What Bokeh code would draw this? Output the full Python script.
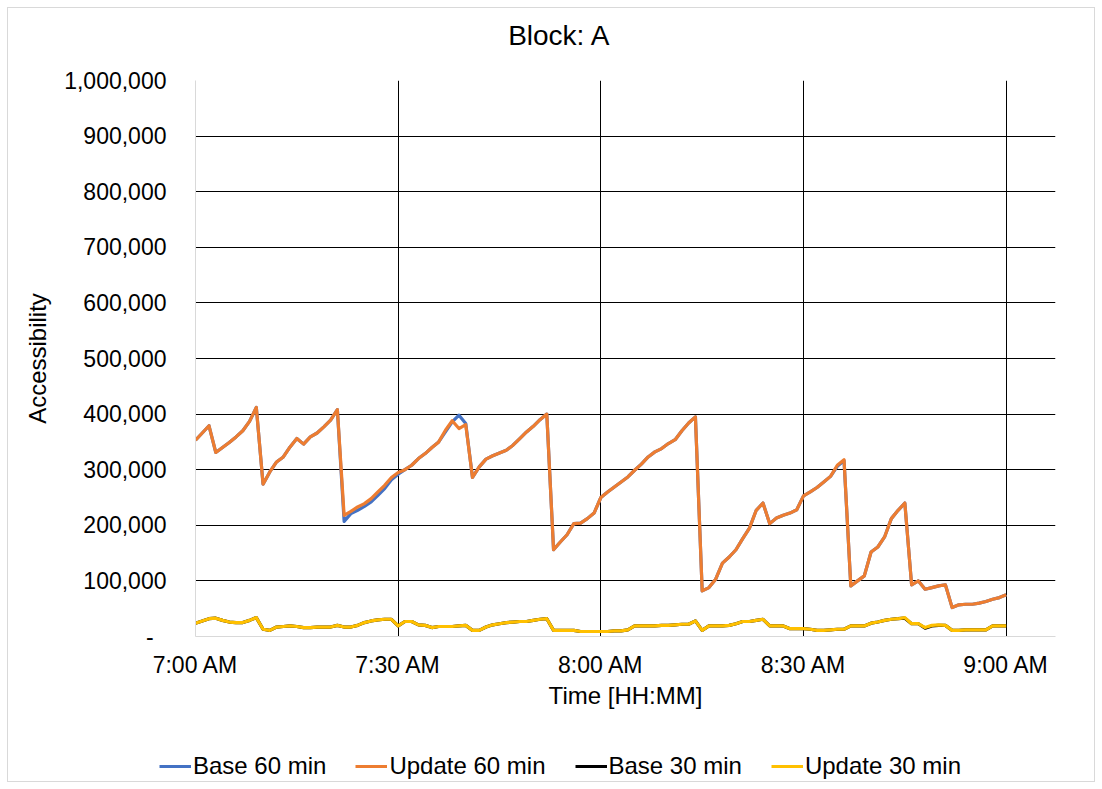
from bokeh.plotting import figure
from bokeh.layouts import column
from bokeh.models import Range1d, FixedTicker, NumeralTickFormatter, Legend, LegendItem, Label
from bokeh.embed import file_html
from bokeh.resources import INLINE

# minutes after 7:00 AM
minutes = list(range(121))

update_60 = [353000, 366000, 379000, 331000, 340000, 349000, 359000, 370000, 387000, 412000,
             274000, 296000, 314000, 323000, 341000, 356000, 346000, 359000, 366000, 377000,
             389000, 408000, 218000, 225000, 233000, 239000, 248000, 260000, 272000, 286000,
             295000, 300000, 308000, 320000, 329000, 340000, 350000, 371000, 388000, 374000,
             381000, 286000, 305000, 319000, 325000, 330000, 335000, 344000, 356000, 368000,
             378000, 390000, 400000, 156000, 170000, 183000, 203000, 204000, 212000, 222000,
             250000, 260000, 269000, 278000, 287000, 299000, 310000, 323000, 332000, 338000,
             347000, 354000, 370000, 384000, 395000, 82000, 88000, 103000, 132000, 143000,
             156000, 176000, 195000, 227000, 240000, 203000, 213000, 218000, 222000, 228000,
             253000, 260000, 268000, 278000, 288000, 308000, 318000, 91000, 100000, 109000,
             152000, 161000, 179000, 212000, 227000, 240000, 93000, 100000, 85000, 88000,
             91000, 93000, 52000, 57000, 58000, 58000, 60000, 63000, 67000, 70000,
             75000]

base_60 = [353000, 366000, 379000, 331000, 340000, 349000, 359000, 370000, 387000, 412000,
           274000, 296000, 314000, 323000, 341000, 356000, 346000, 359000, 366000, 377000,
           389000, 408000, 207000, 221000, 227000, 234000, 242000, 254000, 266000, 282000,
           292000, 300000, 308000, 320000, 329000, 340000, 350000, 368000, 386000, 398000,
           383000, 286000, 305000, 319000, 325000, 330000, 335000, 344000, 356000, 368000,
           378000, 390000, 400000, 156000, 170000, 183000, 203000, 204000, 212000, 222000,
           250000, 260000, 269000, 278000, 287000, 299000, 310000, 323000, 332000, 338000,
           347000, 354000, 370000, 384000, 395000, 82000, 88000, 103000, 132000, 143000,
           156000, 176000, 195000, 227000, 240000, 203000, 213000, 218000, 222000, 228000,
           253000, 260000, 268000, 278000, 288000, 306000, 316000, 91000, 100000, 109000,
           152000, 161000, 179000, 212000, 227000, 240000, 93000, 100000, 85000, 88000,
           91000, 93000, 52000, 57000, 58000, 58000, 60000, 63000, 67000, 70000,
           75000]

update_30 = [24000, 28000, 32000, 33000, 29000, 26000, 25000, 25000, 29000, 34000,
             13000, 11000, 17000, 18000, 19000, 18000, 16000, 16000, 17000, 17000,
             17000, 20000, 17000, 17000, 20000, 25000, 28000, 30000, 31000, 31000,
             19000, 27000, 27000, 21000, 20000, 16000, 18000, 18000, 18000, 19000,
             20000, 11000, 11000, 17000, 21000, 23000, 25000, 26000, 27000, 27000,
             29000, 31000, 32000, 11000, 11000, 11000, 11000, 9000, 9000, 9000,
             9000, 9000, 10000, 10000, 12000, 19000, 19000, 19000, 19000, 20000,
             20000, 21000, 22000, 22000, 28000, 11000, 19000, 19000, 19000, 20000,
             23000, 27000, 27000, 29000, 31000, 19000, 19000, 19000, 14000, 14000,
             14000, 13000, 11000, 11000, 12000, 13000, 13000, 19000, 19000, 19000,
             24000, 26000, 29000, 31000, 32000, 34000, 23000, 23000, 16000, 20000,
             21000, 20000, 11000, 11000, 12000, 12000, 12000, 12000, 19000, 19000,
             19000]

base_30 = [24000, 28000, 32000, 33000, 29000, 26000, 25000, 25000, 29000, 34000,
           13000, 11000, 17000, 18000, 19000, 18000, 16000, 16000, 17000, 17000,
           17000, 20000, 17000, 17000, 20000, 25000, 28000, 30000, 31000, 31000,
           19000, 27000, 27000, 21000, 20000, 16000, 18000, 18000, 18000, 19000,
           20000, 11000, 11000, 17000, 21000, 23000, 25000, 26000, 27000, 27000,
           29000, 31000, 32000, 11000, 11000, 11000, 11000, 9000, 9000, 9000,
           9000, 9000, 10000, 10000, 12000, 19000, 19000, 19000, 19000, 20000,
           20000, 21000, 22000, 22000, 28000, 11000, 19000, 19000, 19000, 20000,
           23000, 27000, 27000, 29000, 31000, 19000, 19000, 19000, 14000, 14000,
           14000, 13000, 11000, 11000, 12000, 13000, 13000, 19000, 19000, 19000,
           24000, 26000, 29000, 31000, 32000, 33000, 23000, 23000, 15000, 19000,
           20000, 20000, 11000, 11000, 12000, 12000, 12000, 12000, 19000, 19000,
           19000]

series_names = ["Base 60 min", "Update 60 min", "Base 30 min", "Update 30 min"]
series_colors = ["#4472C4", "#ED7D31", "#000000", "#FFC000"]
series_data = [base_60, update_60, base_30, update_30]

x_tick_values = [0, 30, 60, 90, 120]
x_tick_labels = ["7:00 AM", "7:30 AM", "8:00 AM", "8:30 AM", "9:00 AM"]
y_tick_values = [0, 100000, 200000, 300000, 400000, 500000, 600000, 700000, 800000, 900000, 1000000]

FONT = "Liberation Sans"
W = 1086


def blank_figure(h):
    f = figure(width=W, height=h, output_backend="svg", toolbar_location=None,
               x_axis_type=None, y_axis_type=None,
               x_range=Range1d(0, 1), y_range=Range1d(0, 1),
               min_border=0, min_border_left=0, min_border_right=0,
               min_border_top=0, min_border_bottom=0, frame_align=False)
    f.outline_line_color = None
    f.xgrid.visible = False
    f.ygrid.visible = False
    f.background_fill_color = "white"
    f.border_fill_color = "white"
    return f


# ---- title strip ----
p_top = blank_figure(52)
p_top.add_layout(Label(x=551, y=25, x_units="screen", y_units="screen", text="Block: A",
                       text_font=FONT, text_font_size="28px", text_color="#000000",
                       text_align="center", text_baseline="alphabetic"))

# ---- main chart ----
p = figure(width=W, height=670, output_backend="svg", toolbar_location=None,
           x_range=Range1d(0, 127.3), y_range=Range1d(0, 1000000),
           min_border_left=187, min_border_right=39, min_border_top=20, min_border_bottom=94)
p.outline_line_color = None
p.background_fill_color = "white"
p.border_fill_color = "white"

for data, color in zip(series_data, series_colors):
    p.line(minutes, data, line_color=color, line_width=3.2, line_join="round")

p.xaxis.ticker = FixedTicker(ticks=x_tick_values)
p.xaxis.major_label_overrides = {v: l for v, l in zip(x_tick_values, x_tick_labels)}
p.yaxis.ticker = FixedTicker(ticks=y_tick_values)
p.yaxis.formatter = NumeralTickFormatter(format="0,0")
p.yaxis.major_label_overrides = {0: "-\u00a0\u00a0"}

for ax in (p.xaxis[0], p.yaxis[0]):
    ax.axis_line_color = "#D9D9D9"
    ax.axis_line_width = 1
    ax.major_tick_line_color = None
    ax.minor_tick_line_color = None
    ax.major_tick_out = 0
    ax.major_tick_in = 0
    ax.minor_tick_out = 0
    ax.minor_tick_in = 0
    ax.major_label_text_font = FONT
    ax.major_label_text_font_size = "23px"
    ax.major_label_text_color = "#000000"
    ax.axis_label_text_font = FONT
    ax.axis_label_text_font_size = "24px"
    ax.axis_label_text_font_style = "normal"
    ax.axis_label_text_color = "#000000"

p.yaxis.major_label_standoff = 29
p.yaxis.axis_label = "Accessibility"
p.yaxis.axis_label_standoff = 10
p.xaxis.major_label_standoff = 15
p.xaxis.axis_label = "Time [HH:MM]"
p.xaxis.axis_label_standoff = 1

p.xgrid.ticker = FixedTicker(ticks=x_tick_values[1:])
p.ygrid.ticker = FixedTicker(ticks=y_tick_values[1:])
for g in (p.xgrid[0], p.ygrid[0]):
    g.grid_line_color = "#000000"
    g.grid_line_width = 1

# ---- legend strip (series lie outside its 0..1 ranges, only the key shows) ----
p_leg = blank_figure(51)
leg_renderers = [p_leg.line(minutes, data, line_color=c, line_width=3.2)
                 for data, c in zip(series_data, series_colors)]
legend = Legend(items=[LegendItem(label=n, renderers=[r]) for n, r in zip(series_names, leg_renderers)],
                location=(151, 1), orientation="horizontal",
                label_text_font=FONT, label_text_font_size="24px", label_text_color="#000000",
                glyph_width=32, glyph_height=20, label_height=20, label_standoff=2,
                spacing=29, padding=0, margin=0,
                border_line_color=None, background_fill_alpha=0)
p_leg.add_layout(legend, "center")

layout = column(p_top, p, p_leg, spacing=0,
                styles={"margin": "7px", "border": "1px solid #d9d9d9"})

open("out.html", "w").write(file_html(layout, INLINE))
